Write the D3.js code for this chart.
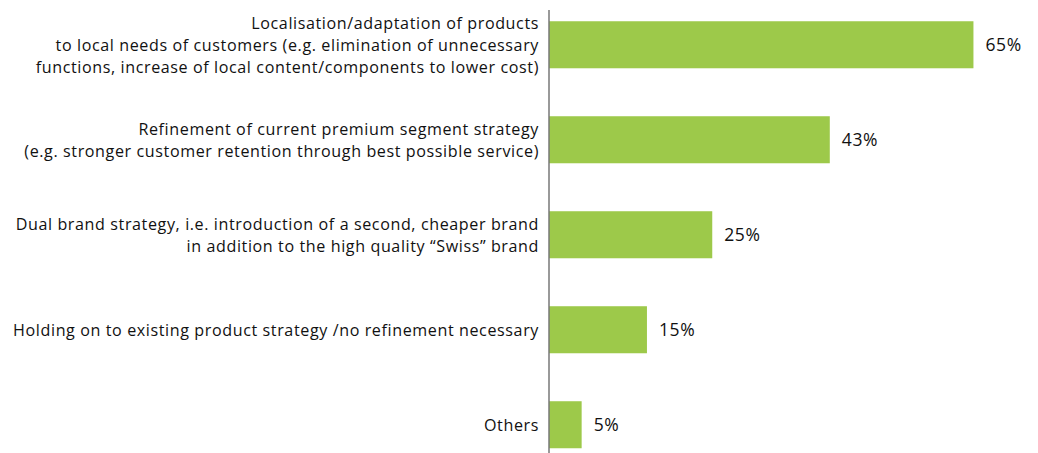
<!DOCTYPE html>
<html><head><meta charset="utf-8">
<script src="https://cdn.jsdelivr.net/npm/d3@7"></script>
<style>body{margin:0;background:#fff;} svg{display:block;}</style>
</head><body>
<svg id="c" width="1038" height="453"></svg>
<script>
const categories = [
  ["Localisation/adaptation of products","to local needs of customers (e.g. elimination of unnecessary","functions, increase of local content/components to lower cost)"],
  ["Refinement of current premium segment strategy","(e.g. stronger customer retention through best possible service)"],
  ["Dual brand strategy, i.e. introduction of a second, cheaper brand","in addition to the high quality \u201cSwiss\u201d brand"],
  ["Holding on to existing product strategy /no refinement necessary"],
  ["Others"]
];
const values = [65, 43, 25, 15, 5];
const valueLabels = ["65%","43%","25%","15%","5%"];

const svg = d3.select("#c");
const x0 = 549;
const x = d3.scaleLinear().domain([0,100]).range([x0, x0+653]);
const y = d3.scaleBand().domain(d3.range(values.length)).range([-2.5, 472]).paddingInner(0.505).paddingOuter(0.25);

const font = "'Open Sans', sans-serif";
svg.selectAll("rect.bar").data(values).join("rect")
  .attr("class","bar")
  .attr("x", x(0))
  .attr("y", (d,i)=>y(i))
  .attr("width", d=>x(d)-x(0))
  .attr("height", y.bandwidth())
  .attr("fill", "#9dc94a");

svg.append("line").attr("x1",x0).attr("x2",x0).attr("y1",10).attr("y2",453)
  .attr("stroke","#777").attr("stroke-width",1.5);

svg.selectAll("text.val").data(values).join("text")
  .attr("class","val")
  .attr("x", d=>x(d)+12)
  .attr("y", (d,i)=>y(i)+y.bandwidth()/2)
  .attr("dy","0.35em")
  .attr("font-family",font).attr("font-size",17.5).attr("letter-spacing",0.6).attr("fill","#111")
  .text((d,i)=>valueLabels[i]);

const lh = 21.95;
categories.forEach((lines,i)=>{
  const cy = y(i)+y.bandwidth()/2;
  lines.forEach((l,j)=>{
    svg.append("text").attr("text-anchor","end")
     .attr("font-family",font).attr("font-size",16.1).attr("letter-spacing",0.6).attr("fill","#111")
     .attr("x",539)
     .attr("y", cy + (j-(lines.length-1)/2)*lh)
     .attr("dy","0.36em").text(l);
  });
});
</script>
</body></html>
